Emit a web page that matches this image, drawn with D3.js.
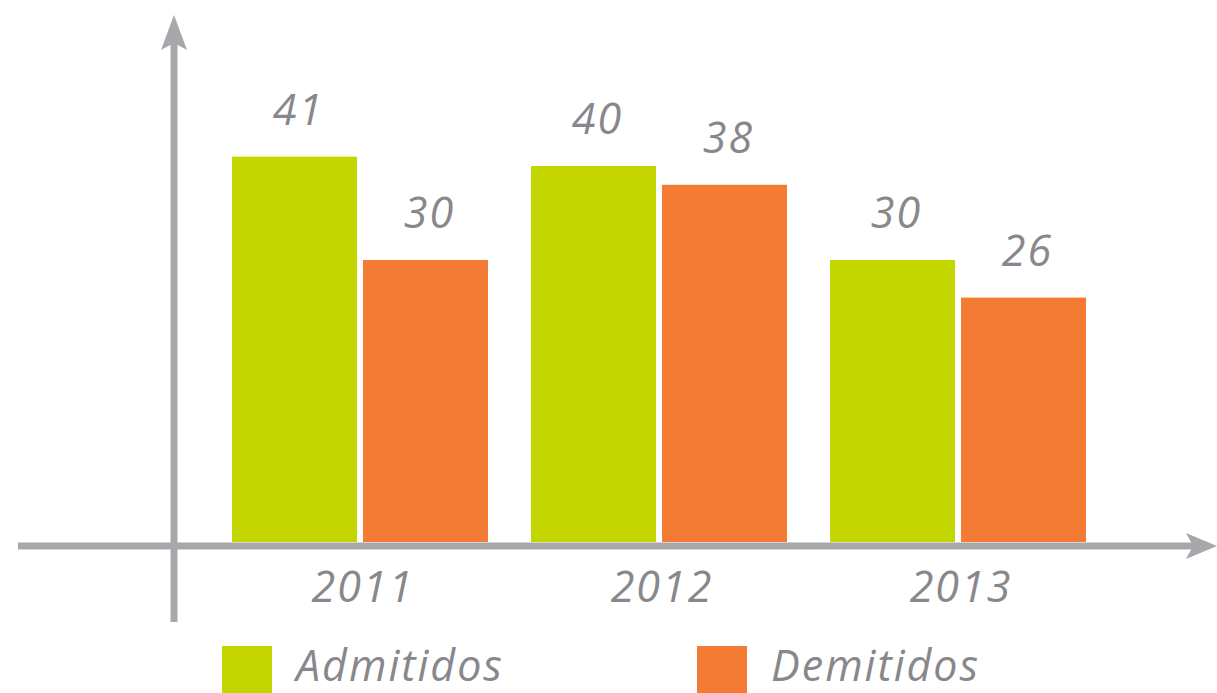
<!DOCTYPE html>
<html>
<head>
<meta charset="utf-8">
<script src="https://cdn.jsdelivr.net/npm/d3@7"></script>
<style>
  body { margin: 0; background: #fff; }
  text { font-family: "Open Sans", "DejaVu Sans", sans-serif; font-style: italic; fill: #88888c; letter-spacing: 2px; }
</style>
</head>
<body>
<div class="chart"></div>
<script>
// data
const years = ['2011', '2012', '2013'];
const series = ['Admitidos', 'Demitidos'];
const admitidos = [41, 40, 30];
const demitidos = [30, 38, 26];
const colors = ['#c4d600', '#f47b33'];

const width = 1217;
const height = 693;
const axisColor = '#a8a8ac';

const svg = d3.select('.chart')
	.append('svg')
	.attr('width', width)
	.attr('height', height);

// scales
const x0 = d3.scaleBand().domain(years).range([232, 1086]).paddingInner(0.144);
const x1 = d3.scaleBand().domain(series).range([0, x0.bandwidth()]).paddingInner(0.046);
const y = d3.scaleLinear().domain([0, 45]).range([542, 119]);
const color = d3.scaleOrdinal().domain(series).range(colors);

const rows = years.map((yr, i) => ({year: yr, values: [
	{key: 'Admitidos', value: admitidos[i]},
	{key: 'Demitidos', value: demitidos[i]}
]}));

// bars
const groups = svg.selectAll('g.year')
	.data(rows)
	.enter()
	.append('g')
	.attr('class', 'year')
	.attr('transform', d => `translate(${x0(d.year)},0)`);

groups.selectAll('rect')
	.data(d => d.values)
	.enter()
	.append('rect')
	.attr('x', d => x1(d.key))
	.attr('width', x1.bandwidth())
	.attr('y', d => y(d.value))
	.attr('height', d => y(0) - y(d.value))
	.attr('fill', d => color(d.key));

// value labels
groups.selectAll('text.value')
	.data(d => d.values)
	.enter()
	.append('text')
	.attr('class', 'value')
	.attr('x', d => x1(d.key) + x1.bandwidth() / 2 + 4)
	.attr('y', d => y(d.value) - 32)
	.attr('text-anchor', 'middle')
	.attr('font-size', '43px')
	.text(d => d.value);

// axes (arrows)
svg.append('line')
	.attr('x1', 18).attr('x2', 1195)
	.attr('y1', 546).attr('y2', 546)
	.attr('stroke', axisColor).attr('stroke-width', 7);
svg.append('path')
	.attr('d', 'M1217,546 L1186,533 L1193,546 L1186,559 Z')
	.attr('fill', axisColor);

svg.append('line')
	.attr('x1', 174).attr('x2', 174)
	.attr('y1', 40).attr('y2', 622)
	.attr('stroke', axisColor).attr('stroke-width', 7);
svg.append('path')
	.attr('d', 'M174,15 L161,50 L174,43 L187,50 Z')
	.attr('fill', axisColor);

// year labels
svg.selectAll('text.year')
	.data(years)
	.enter()
	.append('text')
	.attr('class', 'year')
	.attr('x', d => x0(d) + x0.bandwidth() / 2 + 3)
	.attr('y', 602)
	.attr('text-anchor', 'middle')
	.attr('font-size', '43px')
	.text(d => d);

// legend
const legendX = [222, 697];
const legend = svg.selectAll('g.legend')
	.data(series)
	.enter()
	.append('g')
	.attr('class', 'legend')
	.attr('transform', (d, i) => `translate(${legendX[i]},646)`);

legend.append('rect')
	.attr('width', 50)
	.attr('height', 50)
	.attr('fill', d => color(d));

legend.append('text')
	.attr('x', 74)
	.attr('y', 35)
	.attr('font-size', '43px')
	.text(d => d);
</script>
</body>
</html>
